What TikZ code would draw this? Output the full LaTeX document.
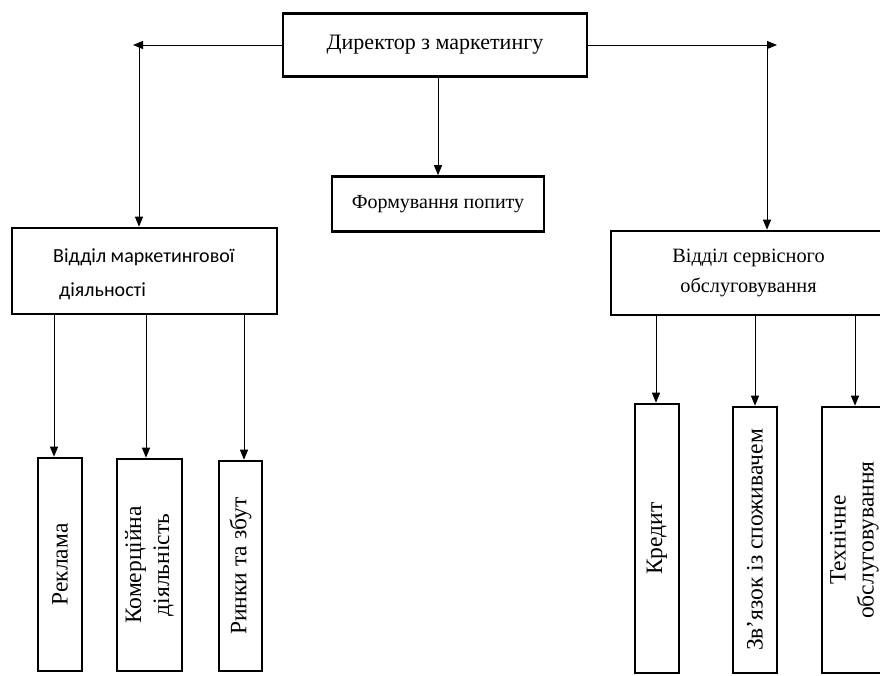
\documentclass[tikz,border=0pt]{standalone}
\usepackage{fontspec}
\setmainfont{Liberation Serif}
\newfontfamily\calib{Carlito}
\usetikzlibrary{arrows.meta}
\begin{document}
\begin{tikzpicture}[x=1pt,y=-1pt,
  box/.style={draw,line width=2.6pt,inner sep=0pt},
  conn/.style={line width=1pt},
  arr/.style={conn,-{Triangle[length=10pt,width=8pt]}},
  vtxt/.style={font=\fontsize{23.5}{28}\selectfont}]
\useasboundingbox (0,0) rectangle (880,675);
% top
\node[box,minimum width=304,minimum height=63,font=\fontsize{22}{26}\selectfont] (top) at (435,45) {\raisebox{5pt}{Директор з маркетингу}};
\node[box,minimum width=212,minimum height=55,font=\fontsize{20}{24}\selectfont] (form) at (438,204) {Формування попиту};
\node[box,minimum width=265,minimum height=86] (lbox) at (144.5,271) {};
\node[anchor=west,align=left,font=\calib\fontsize{20}{34}\selectfont,inner sep=0pt] (ltxt) at (53,274) {Відділ маркетингової\\\hspace*{6pt}діяльності};
\node[box,minimum width=275,minimum height=84,align=center,font=\fontsize{20.3}{30}\selectfont] (rbox) at (748.5,273) {Відділ сервісного\\обслуговування};
% top connectors
\coordinate (lend) at (133,45);
\coordinate (rend) at (777,45);
\coordinate (lc) at (139,45);
\coordinate (rc) at (767,45);
\draw[arr] (top.west) -- (lend);
\draw[arr] (top.east) -- (rend);
\draw[arr] (lc) -- (lc |- lbox.north);
\draw[arr] (rc) -- (rc |- rbox.north);
\draw[arr] (top.south -| form.north) -- (form.north);
% left column boxes
\node[box,minimum width=44,minimum height=213,vtxt] (b1) at (60,564.5) {\rotatebox{90}{Реклама}};
\node[box,minimum width=65,minimum height=212,vtxt] (b2) at (149.5,565) {\rotatebox{90}{\begin{tabular}{@{}c@{}}Комерційна\\діяльність\end{tabular}}};
\node[box,minimum width=43,minimum height=210,vtxt] (b3) at (240.5,566) {\rotatebox{90}{Ринки та збут}};
% right column boxes
\node[box,minimum width=44,minimum height=269,vtxt] (c1) at (657,538.5) {\rotatebox{90}{Кредит}};
\node[box,minimum width=44,minimum height=266,vtxt] (c2) at (755,540) {\rotatebox{90}{Зв’язок із споживачем}};
\node[box,minimum width=64,minimum height=266,vtxt] (c3) at (854,540) {\rotatebox{90}{\begin{tabular}{@{}c@{}}Технічне\\обслуговування\end{tabular}}};
% lower connectors
\coordinate (l1) at (54,314);
\coordinate (l2) at (146,314);
\coordinate (l3) at (244,314);
\coordinate (r1) at (656,315);
\coordinate (r2) at (755,315);
\coordinate (r3) at (855,315);
\draw[arr] (l1) -- (l1 |- b1.north);
\draw[arr] (l2) -- (l2 |- b2.north);
\draw[arr] (l3) -- (l3 |- b3.north);
\draw[arr] (r1) -- (r1 |- c1.north);
\draw[arr] (r2) -- (r2 |- c2.north);
\draw[arr] (r3) -- (r3 |- c3.north);
\end{tikzpicture}
\end{document}
